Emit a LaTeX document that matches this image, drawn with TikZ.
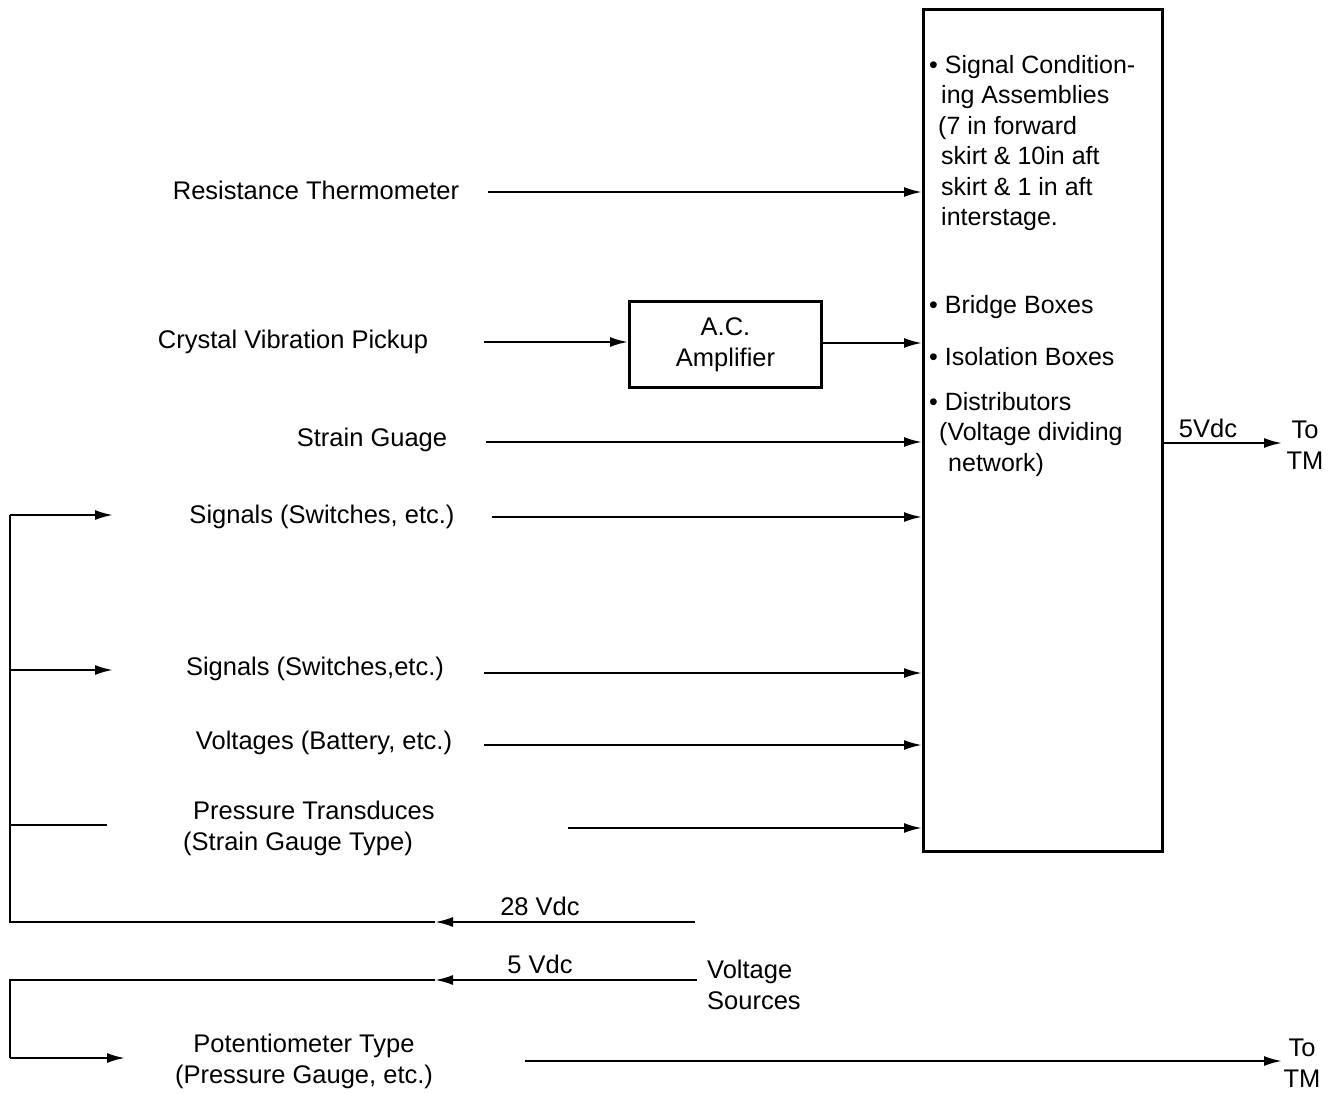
\documentclass[tikz,border=0pt]{standalone}
\usepackage{fontspec}
\setmainfont{Liberation Sans}
\usetikzlibrary{arrows.meta}
\begin{document}
\begin{tikzpicture}[x=1pt,y=-1pt,
  lbl/.style={inner sep=0pt,font=\fontsize{25.5}{31}\selectfont},
  blbl/.style={inner sep=0pt,font=\fontsize{25}{30.5}\selectfont},
  conn/.style={line width=2.2pt,-{Latex[length=18pt,width=10pt]}},
  wire/.style={line width=2.2pt},
  blk/.style={draw,line width=3pt,inner sep=0pt}]
\useasboundingbox[fill=white] (0,0) rectangle (1331,1094);

% main block
\node[blk,minimum width=239pt,minimum height=842pt,anchor=north west] (box) at (922,8) {};
\node[blbl,align=left,anchor=north west] (sca) at (929,55) {\textbullet\ Signal Condition-\\\hspace*{12pt}ing Assemblies\\\hspace*{9pt}(7 in forward\\\hspace*{12pt}skirt \& 10in aft\\\hspace*{12pt}skirt \& 1 in aft\\\hspace*{12pt}interstage.};
\node[blbl,anchor=west] (bb) at (929,307) {\textbullet\ Bridge Boxes};
\node[blbl,anchor=west] (ib) at (929,357) {\textbullet\ Isolation Boxes};
\node[blbl,align=left,anchor=north west] (dist) at (929,392) {\textbullet\ Distributors\\\hspace*{10pt}(Voltage dividing\\\hspace*{19pt}network)};

% amplifier
\node[blk,minimum width=192pt,minimum height=86pt,anchor=north west,align=center,lbl,line width=3pt,draw] (amp) at (628,300) {A.C.\\Amplifier};

% left labels
\node[lbl] (rt) at (316,190) {Resistance Thermometer};
\node[lbl] (cvp) at (293,342) {Crystal Vibration Pickup};
\node[lbl] (sg) at (372,440) {Strain Guage};
\node[lbl] (sig1) at (322,517) {Signals (Switches, etc.)};
\node[lbl] (sig2) at (315,669) {Signals (Switches,etc.)};
\node[lbl] (volt) at (324,743) {Voltages (Battery, etc.)};
\node[lbl,align=left,anchor=west] (pt) at (183,828) {\hspace*{10pt}Pressure Transduces\\(Strain Gauge Type)};
\node[lbl,align=center] (pot) at (304,1061) {Potentiometer Type\\(Pressure Gauge, etc.)};
\node[lbl,align=left,anchor=west] (vs) at (707,985) {Voltage\\Sources};
\node[lbl] (v28) at (540,906) {28 Vdc};
\node[lbl] (v5) at (540,964) {5 Vdc};
\node[lbl] (v5o) at (1208,428) {5Vdc};
\node[lbl,align=center] (tm1) at (1305,445) {To\\TM};
\node[lbl,align=center] (tm2) at (1302,1063) {To\\TM};

% connector start points
\coordinate (srt) at (488,192);
\coordinate (scvp) at (484,342);
\coordinate (ssg) at (486,442);
\coordinate (ssig1) at (492,517);
\coordinate (ssig2) at (484,673);
\coordinate (svolt) at (484,745);
\coordinate (spt) at (568,828);
\coordinate (spot) at (525,1061);
\coordinate (eout) at (1282,443);
\coordinate (epot) at (1282,1061);

\draw[conn] (srt) -- (srt -| box.west);
\draw[conn] (scvp) -- (scvp -| amp.west);
\draw[conn] (amp.east |- 0,343) -- (box.west |- 0,343);
\draw[conn] (ssg) -- (ssg -| box.west);
\draw[conn] (ssig1) -- (ssig1 -| box.west);
\draw[conn] (ssig2) -- (ssig2 -| box.west);
\draw[conn] (svolt) -- (svolt -| box.west);
\draw[conn] (spt) -- (spt -| box.west);
\draw[conn] (box.east |- eout) -- (eout);
\draw[conn] (spot) -- (epot);

% supply bus 28 Vdc
\coordinate (vs28) at (695,922);
\coordinate (m28) at (435,922);
\coordinate (b28) at (10,922);
\coordinate (btop) at (10,515);
\coordinate (b2) at (10,670);
\coordinate (b3) at (10,825);
\draw[conn] (vs28) -- (m28);
\draw[wire] (m28) -- (b28) -- (btop);
\draw[conn] (btop) -- (113,515);
\draw[conn] (b2) -- (113,670);
\draw[wire] (b3) -- (107,825);

% supply 5 Vdc
\coordinate (vs5) at (697,980);
\coordinate (m5) at (435,980);
\coordinate (b5) at (10,980);
\coordinate (b5b) at (10,1058);
\coordinate (e5) at (125,1058);
\draw[conn] (vs5) -- (m5);
\draw[wire] (m5) -- (b5) -- (b5b);
\draw[conn] (b5b) -- (e5);
\end{tikzpicture}
\end{document}
